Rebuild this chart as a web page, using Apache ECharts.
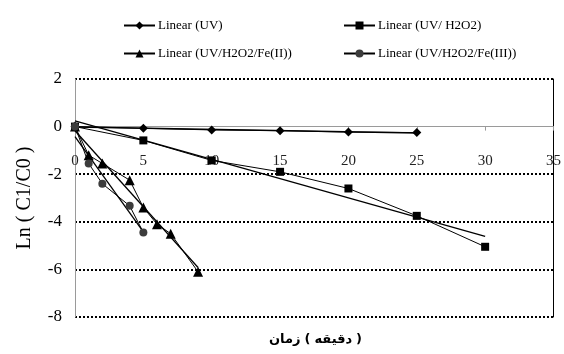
<!DOCTYPE html>
<html><head><meta charset="utf-8">
<script src="https://cdn.jsdelivr.net/npm/echarts@6/dist/echarts.min.js"></script>
<style>html,body{margin:0;padding:0;background:#fff}#c{width:564px;height:354px}</style>
</head><body><div id="c"></div>
<script>
const names = ['Linear (UV)', 'Linear (UV/ H2O2)', 'Linear (UV/H2O2/Fe(II))', 'Linear (UV/H2O2/Fe(III))'];
const xUV = [0, 5, 10, 15, 20, 25];
const yUV = [0, -0.07, -0.14, -0.17, -0.23, -0.25];
const xH2O2 = [0, 5, 10, 15, 20, 25, 30];
const yH2O2 = [0, -0.58, -1.42, -1.9, -2.6, -3.75, -5.05];
const xFe2 = [0, 1, 2, 4, 5, 6, 7, 9];
const yFe2 = [0, -1.2, -1.55, -2.25, -3.4, -4.1, -4.5, -6.1];
const xFe3 = [0, 1, 2, 4, 5];
const yFe3 = [0, -1.55, -2.4, -3.33, -4.45];
const xTicks = [0, 5, 10, 15, 20, 25, 30, 35];
const yTicks = [-8, -6, -4, -2, 0, 2];
const yAxisName = 'Ln ( C1/C0 )';
// x-axis title pieces, in visual left-to-right order
const xNameParts = ['زمان', '(', 'دقیقه', ')'];

function pairs(xs, ys) { return xs.map((x, i) => [x, ys[i]]); }
function trend(xs, ys) {
  const n = xs.length;
  const mx = xs.reduce((a, b) => a + b, 0) / n;
  const my = ys.reduce((a, b) => a + b, 0) / n;
  let sxy = 0, sxx = 0;
  for (let i = 0; i < n; i++) { sxy += (xs[i] - mx) * (ys[i] - my); sxx += (xs[i] - mx) ** 2; }
  const b = sxy / sxx, a = my - b * mx;
  const x0 = Math.min(...xs), x1 = Math.max(...xs);
  return [[x0, a + b * x0], [x1, a + b * x1]];
}
const serif = 'Liberation Serif';
const W = 564, H = 354;
const G = { left: 75, right: 8, top: 79, bottom: 37 };
const gridH = H - G.top - G.bottom;
const yMin = yTicks[0], yMax = yTicks[yTicks.length - 1];
const zeroOffset = -gridH * (0 - yMin) / (yMax - yMin);

const sets = [
  { xs: xUV, ys: yUV, symbol: 'diamond', size: 9, color: '#000' },
  { xs: xH2O2, ys: yH2O2, symbol: 'rect', size: 8, color: '#000' },
  { xs: xFe2, ys: yFe2, symbol: 'triangle', size: 10, color: '#000' },
  { xs: xFe3, ys: yFe3, symbol: 'circle', size: 8, color: '#3c3c3c' }
];
const series = [];
sets.forEach((s, i) => {
  series.push({
    name: 'trend' + i, type: 'line', data: trend(s.xs, s.ys), symbol: 'none',
    lineStyle: { color: '#000', width: 1.3 }, silent: true, z: 2
  });
});
sets.forEach((s, i) => {
  series.push({
    name: names[i], type: 'line', data: pairs(s.xs, s.ys),
    symbol: s.symbol, symbolSize: s.size,
    itemStyle: { color: s.color, borderWidth: 0 },
    lineStyle: { color: '#000', width: 1 }, z: 3
  });
});
const legendPos = [[118, 14], [338, 14], [118, 42], [338, 42]];
const legends = names.map((n, i) => ({
  data: [n], left: legendPos[i][0], top: legendPos[i][1],
  itemWidth: 31, itemHeight: 10, itemGap: 4,
  textStyle: { fontFamily: serif, fontSize: 13, color: '#000', padding: [0, 0, 0, -2] },
  selectedMode: false
}));

// x-axis title built from pieces so the visual order matches
const nameFont = 'bold 13px "DejaVu Sans"';
const cv = document.createElement('canvas').getContext('2d');
cv.font = nameFont;
const gap = 4;
const widths = xNameParts.map(t => cv.measureText(t).width);
const total = widths.reduce((a, b) => a + b, 0) + gap * (xNameParts.length - 1);
let cx = G.left + (W - G.left - G.right) / 2 - total / 2;
const nameGraphics = xNameParts.map((t, i) => {
  const g = { type: 'text', x: cx, y: 340, style: { text: t, font: nameFont, fill: '#000', verticalAlign: 'middle', textAlign: 'left' } };
  cx += widths[i] + gap;
  return g;
});

const chart = echarts.init(document.getElementById('c'), null, { renderer: 'canvas' });
chart.setOption({
  animation: false,
  backgroundColor: '#fff',
  legend: legends,
  grid: { left: G.left, right: G.right, top: G.top, bottom: G.bottom, containLabel: false },
  xAxis: {
    type: 'value', min: xTicks[0], max: xTicks[xTicks.length - 1], interval: 5,
    position: 'bottom', offset: zeroOffset,
    axisLine: { onZero: false, lineStyle: { color: '#9a9a9a', width: 1 } },
    axisTick: { show: true, length: 4, lineStyle: { color: '#9a9a9a' } },
    axisLabel: { margin: 27, fontFamily: serif, fontSize: 15, color: '#222' },
    splitLine: { show: false }
  },
  yAxis: [{
    type: 'value', min: yMin, max: yMax, interval: 2,
    name: yAxisName, nameLocation: 'middle', nameGap: 40, nameRotate: 90,
    nameTextStyle: { fontFamily: serif, fontSize: 20, color: '#000' },
    axisLine: { show: true, onZero: false, lineStyle: { color: '#9a9a9a', width: 1 } },
    axisTick: { show: false },
    axisLabel: { margin: 13, fontFamily: serif, fontSize: 17, color: '#000' },
    splitLine: { show: true, lineStyle: { color: ['#000', '#000', '#000', '#000', 'rgba(0,0,0,0)', '#000'], width: 2, type: [2, 2] } }
  }, {
    type: 'value', position: 'right', min: yMin, max: yMax, interval: 2,
    axisLine: { show: true, onZero: false, lineStyle: { color: '#000', width: 1 } },
    axisTick: { show: false }, axisLabel: { show: false }, splitLine: { show: false }
  }],
  graphic: nameGraphics,
  series: series
});
</script></body></html>
